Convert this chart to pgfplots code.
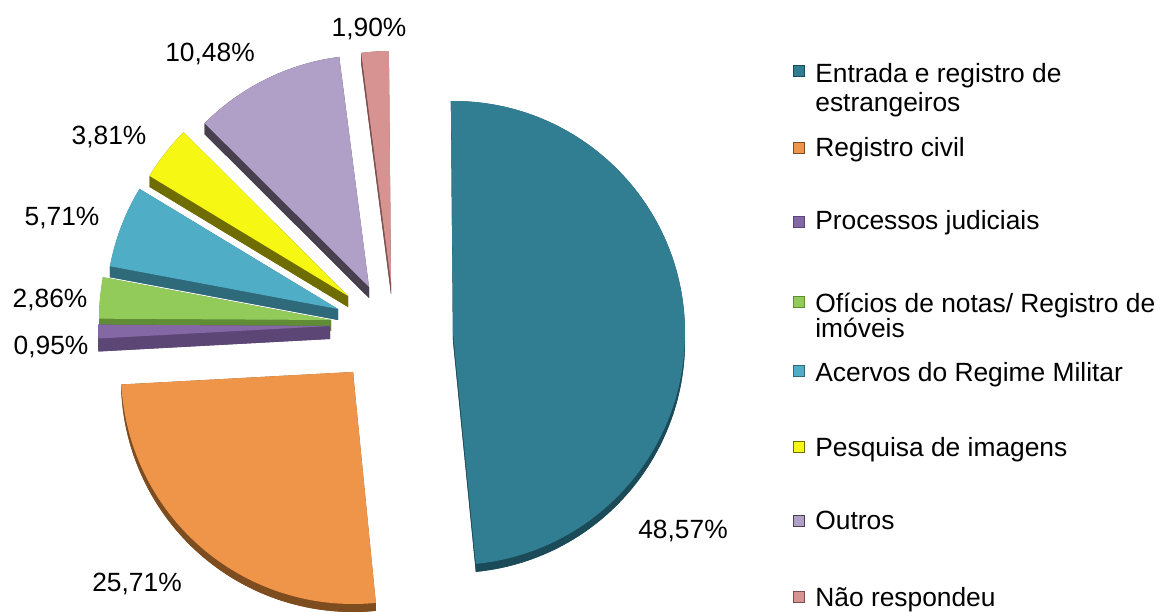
\documentclass[border=0pt]{standalone}
\usepackage{pgfplots}
\usepackage{pgfplotstable}
\pgfplotsset{compat=1.18}
\usepackage{fontspec}
\setmainfont{Liberation Sans}

\definecolor{cEnt}{HTML}{317E93}
\definecolor{sEnt}{HTML}{1B4A58}
\definecolor{cReg}{HTML}{EE9549}
\definecolor{sReg}{HTML}{7D4C1F}
\definecolor{cPro}{HTML}{8468A6}
\definecolor{sPro}{HTML}{5C4676}
\definecolor{cOfi}{HTML}{93CB5A}
\definecolor{sOfi}{HTML}{5F8C35}
\definecolor{cAce}{HTML}{4FADC6}
\definecolor{sAce}{HTML}{2E6A7A}
\definecolor{cPes}{HTML}{F7F714}
\definecolor{sPes}{HTML}{6F6C00}
\definecolor{cOut}{HTML}{B09FC7}
\definecolor{sOut}{HTML}{48404F}
\definecolor{cNao}{HTML}{D69392}
\definecolor{sNao}{HTML}{7C4E4D}

% value (%), apex x / y (px, y downward), top colour, side colour, depth (px)
\pgfplotstableread{
value ax ay top side dep
48.57 453 333 cEnt sEnt 8
25.71 353 372 cReg sReg 8
0.95 330 326 cPro sPro 13
2.86 331 320 cOfi sOfi 11
5.71 338 309 cAce sAce 11
3.81 348 296 cPes sPes 11
10.48 369 287 cOut sOut 11
1.90 391 283 cNao sNao 11
}\piedata

\newcommand\lbl{\fontsize{15}{18}\selectfont}

\begin{document}
\begin{tikzpicture}
\def\R{46.4mm}
\def\cur{90.5}
\pgfplotsforeachungrouped \i in {0,...,7}{%
  \pgfplotstablegetelem{\i}{value}\of\piedata
  \pgfmathsetmacro\nxt{\cur-3.6*\pgfplotsretval}%
  \expandafter\xdef\csname sa\i\endcsname{\cur}%
  \expandafter\xdef\csname ea\i\endcsname{\nxt}%
  \global\let\cur\nxt
}
\begin{axis}[width=232.4mm,height=122.4mm,scale only axis,
  xmin=0,xmax=1162,ymin=0,ymax=612,hide axis,clip=false]
\coordinate (bl) at (rel axis cs:0,0);
\coordinate (tr) at (rel axis cs:1,1);
\pgfplotsforeachungrouped \i in {7,6,5,4,3,2,0,1}{%
  \pgfplotstablegetelem{\i}{ax}\of\piedata \let\ax\pgfplotsretval
  \pgfplotstablegetelem{\i}{ay}\of\piedata \pgfmathsetmacro\ay{612-\pgfplotsretval}%
  \pgfplotstablegetelem{\i}{top}\of\piedata \let\ctop\pgfplotsretval
  \pgfplotstablegetelem{\i}{side}\of\piedata \let\cside\pgfplotsretval
  \pgfplotstablegetelem{\i}{dep}\of\piedata \pgfmathsetmacro\dd{0.2*\pgfplotsretval}%
  \edef\sa{\csname sa\i\endcsname}%
  \edef\ea{\csname ea\i\endcsname}%
  \edef\temp{%
   \noexpand\fill[\cside] ([yshift=-\dd mm]axis cs:\ax,\ay) -- ++(\sa:\R) arc[start angle=\sa,end angle=\ea,radius=\R] -- cycle;
   \noexpand\fill[\cside] (axis cs:\ax,\ay) -- ++(\sa:\R) -- ++(0,-\dd mm) -- ([yshift=-\dd mm]axis cs:\ax,\ay) -- cycle;
   \noexpand\fill[\cside] (axis cs:\ax,\ay) -- ++(\ea:\R) -- ++(0,-\dd mm) -- ([yshift=-\dd mm]axis cs:\ax,\ay) -- cycle;
   \noexpand\fill[\cside] ([shift={(\sa:\R)}]axis cs:\ax,\ay) arc[start angle=\sa,end angle=\ea,radius=\R] -- ++(0,-\dd mm) arc[start angle=\ea,end angle=\sa,radius=\R] -- cycle;
   \noexpand\fill[\ctop] (axis cs:\ax,\ay) -- ++(\sa:\R) arc[start angle=\sa,end angle=\ea,radius=\R] -- cycle;
  }\temp
}
% percentage labels
\node[font=\lbl,anchor=base] at (axis cs:683,73) {48,57\%};
\node[font=\lbl,anchor=base] at (axis cs:137,20) {25,71\%};
\node[font=\lbl,anchor=base] at (axis cs:51,257) {0,95\%};
\node[font=\lbl,anchor=base] at (axis cs:50,304) {2,86\%};
\node[font=\lbl,anchor=base] at (axis cs:62,386) {5,71\%};
\node[font=\lbl,anchor=base] at (axis cs:109,467) {3,81\%};
\node[font=\lbl,anchor=base] at (axis cs:210,550) {10,48\%};
\node[font=\lbl,anchor=base] at (axis cs:369,575) {1,90\%};
% legend
\tikzset{lsq/.style={minimum size=2.3mm,inner sep=0pt,line width=0.3pt},
         ltx/.style={font=\lbl,anchor=base west,inner sep=0pt}}
\node[lsq,fill=cEnt,draw=sEnt] at (axis cs:799,541) {};
\node[ltx] at (axis cs:815,529) {Entrada e registro de};
\node[ltx] at (axis cs:815,500) {estrangeiros};
\node[lsq,fill=cReg,draw=sReg] at (axis cs:799,464) {};
\node[ltx] at (axis cs:815,455) {Registro civil};
\node[lsq,fill=cPro,draw=sPro] at (axis cs:799,390) {};
\node[ltx] at (axis cs:815,382) {Processos judiciais};
\node[lsq,fill=cOfi,draw=sOfi] at (axis cs:799,310) {};
\node[ltx] at (axis cs:815,299) {Ofícios de notas/ Registro de};
\node[ltx] at (axis cs:815,274) {imóveis};
\node[lsq,fill=cAce,draw=sAce] at (axis cs:799,241) {};
\node[ltx] at (axis cs:815,230) {Acervos do Regime Militar};
\node[lsq,fill=cPes,draw=sPes] at (axis cs:799,165) {};
\node[ltx] at (axis cs:815,155) {Pesquisa de imagens};
\node[lsq,fill=cOut,draw=sOut] at (axis cs:799,91) {};
\node[ltx] at (axis cs:815,82) {Outros};
\node[lsq,fill=cNao,draw=sNao] at (axis cs:799,15) {};
\node[ltx] at (axis cs:815,5) {Não respondeu};
\end{axis}
\pgfresetboundingbox
\path (bl) rectangle (tr);
\end{tikzpicture}
\end{document}
